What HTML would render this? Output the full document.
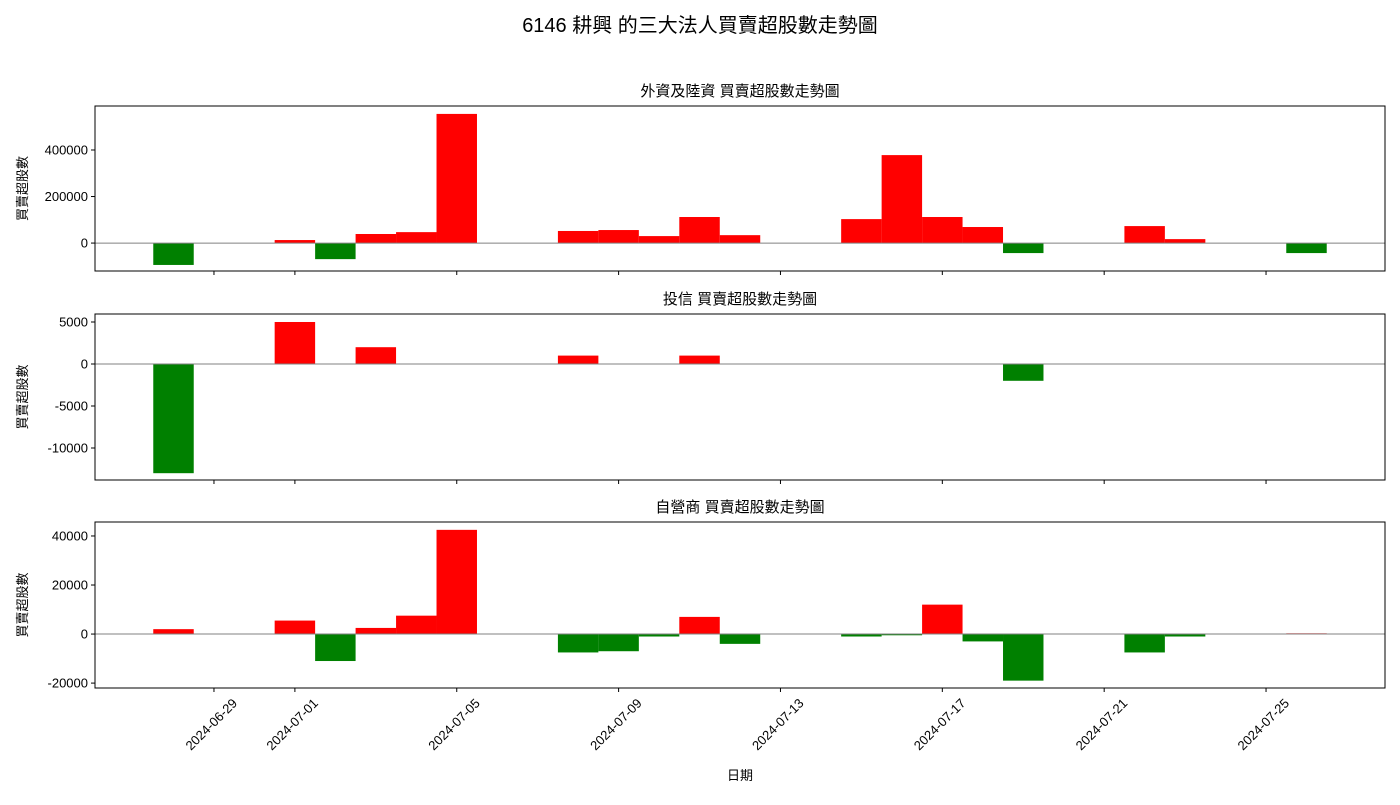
<!DOCTYPE html>
<html><head><meta charset="utf-8">
<style>
body{margin:0;background:#fff;}
svg text{font-family:"Liberation Sans","Noto Sans CJK TC",sans-serif;fill:#000;}
</style></head>
<body>
<svg id="chart" width="1400" height="800" xmlns="http://www.w3.org/2000/svg"></svg>
<script>
const dates = ["2024-06-28","2024-07-01","2024-07-02","2024-07-03","2024-07-04","2024-07-05","2024-07-08","2024-07-09","2024-07-10","2024-07-11","2024-07-12","2024-07-15","2024-07-16","2024-07-17","2024-07-18","2024-07-19","2024-07-22","2024-07-23","2024-07-26"];
const foreignValues = [-94000,13000,-69000,39000,47000,555000,52000,56000,30000,112000,34000,103000,378000,112000,69000,-43000,73000,17000,-43000];
const trustValues = [-13000,5000,0,2000,0,0,1000,0,0,1000,0,0,0,0,0,-2000,0,0,0];
const dealerValues = [2000,5500,-11000,2500,7500,42500,-7500,-7000,-1000,7000,-4000,-1000,-500,12000,-3000,-19000,-7500,-1000,300];
const xTickLabels = ["2024-06-29","2024-07-01","2024-07-05","2024-07-09","2024-07-13","2024-07-17","2024-07-21","2024-07-25"];
const foreignTicks = [0,200000,400000];
const trustTicks = [-10000,-5000,0,5000];
const dealerTicks = [-20000,0,20000,40000];

const NS="http://www.w3.org/2000/svg";
const svg=document.getElementById('chart');
function mk(tag,attrs,parent){const e=document.createElementNS(NS,tag);for(const k in attrs)e.setAttribute(k,attrs[k]);(parent||svg).appendChild(e);return e;}
const base=Date.UTC(2024,5,28);
function dayOf(s){const p=s.split('-');return (Date.UTC(+p[0],+p[1]-1,+p[2])-base)/86400000;}
const X0=95,X1=1385,dMin=-1.94,dMax=29.94;
function xs(d){return X0+(d-dMin)/(dMax-dMin)*(X1-X0);}
const dayW=(X1-X0)/(dMax-dMin);

const t=mk('text',{x:700,y:32,'text-anchor':'middle','font-size':20});
t.textContent='6146 耕興 的三大法人買賣超股數走勢圖';



const panels=[
 {name:'foreign',title:'外資及陸資 買賣超股數走勢圖',top:106,bot:271,ymin:-120000,ymax:589000,vals:foreignValues,ticks:foreignTicks},
 {name:'trust',title:'投信 買賣超股數走勢圖',top:314,bot:480,ymin:-13810,ymax:5952,vals:trustValues,ticks:trustTicks},
 {name:'dealer',title:'自營商 買賣超股數走勢圖',top:522,bot:688,ymin:-22000,ymax:45700,vals:dealerValues,ticks:dealerTicks}
];
panels.forEach((p,pi)=>{
  const g=mk('g',{});
  
  
  const ys=v=>p.bot-(v-p.ymin)/(p.ymax-p.ymin)*(p.bot-p.top);
  dates.forEach((d,i)=>{
    const v=p.vals[i]; if(v===0) return;
    const cx=xs(dayOf(d)), y0=ys(0), y1=ys(v);
    const r=mk('rect',{x:cx-dayW/2,y:Math.min(y0,y1),width:dayW,height:Math.abs(y1-y0),fill:v>0?'#ff0000':'#008000'},g);
    
    
  });
  const zl=mk('line',{x1:X0,x2:X1,y1:ys(0),y2:ys(0),stroke:'#808080','stroke-width':1},g);
  
  
  const fr=mk('rect',{x:X0,y:p.top,width:X1-X0,height:p.bot-p.top,fill:'none',stroke:'#000','stroke-width':1},g);
  
  
  const st=mk('text',{x:(X0+X1)/2,y:p.top-10,'text-anchor':'middle','font-size':15},g);
  st.textContent=p.title;
  
  
  p.ticks.forEach(v=>{
    const y=ys(v);
    mk('line',{x1:X0-4,x2:X0,y1:y,y2:y,stroke:'#000'},g);
    const tl=mk('text',{x:X0-7,y:y+4.5,'text-anchor':'end','font-size':13},g);
    tl.textContent=String(v);
    
    
  });
  const yl=mk('text',{x:0,y:0,'text-anchor':'middle','font-size':13,transform:`translate(27,${(p.top+p.bot)/2}) rotate(-90)`},g);
  yl.textContent='買賣超股數';
  
  
  xTickLabels.forEach(s=>{
    const x=xs(dayOf(s));
    mk('line',{x1:x,x2:x,y1:p.bot,y2:p.bot+4,stroke:'#000'},g);
    if(pi===2){
      const xl=mk('text',{x:0,y:0,'text-anchor':'end','font-size':13,transform:`translate(${x+24},${p.bot+16}) rotate(-45)`},g);
      xl.textContent=s;
      
      
    }
  });
});
const xt=mk('text',{x:740,y:780,'text-anchor':'middle','font-size':13});
xt.textContent='日期';


</script>
</body></html>
